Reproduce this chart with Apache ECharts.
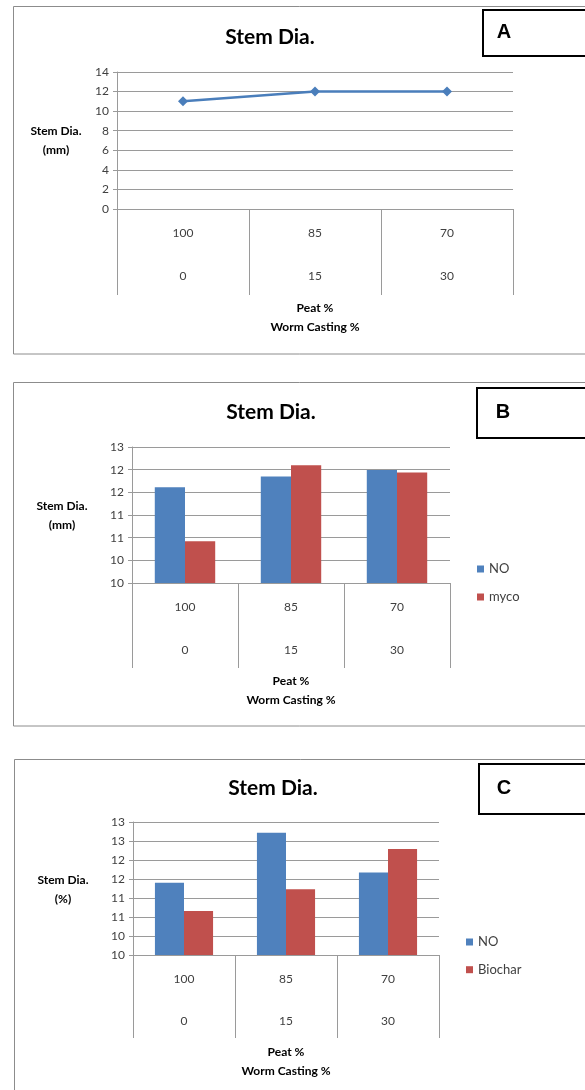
<!DOCTYPE html>
<html>
<head>
<meta charset="utf-8">
<script src="https://cdn.jsdelivr.net/npm/echarts@6/dist/echarts.min.js"></script>
<style>
html,body{margin:0;padding:0;background:#fff;}
#chart{width:585px;height:1090px;}
</style>
</head>
<body>
<div id="chart"></div>
<script>
// ---- data ----
const categoriesPeat = ['100', '85', '70'];
const categoriesWorm = ['0', '15', '30'];
const stemDiaA = [11, 12, 12];
const noB = [12.11, 12.35, 12.49];
const mycoB = [10.92, 12.6, 12.44];
const noC = [11.9, 13.22, 12.17];
const biocharC = [11.16, 11.73, 12.79];
const tickLabelsB = ['10', '10', '11', '11', '12', '12', '13'];
const tickLabelsC = ['10', '10', '11', '11', '12', '12', '13', '13'];
const panelLetters = ['A', 'B', 'C'];
const chartTitle = 'Stem Dia.';
const yNameA = 'Stem Dia.\n(mm)';
const yNameB = 'Stem Dia.\n(mm)';
const yNameC = 'Stem Dia.\n(%)';
const xName = 'Peat %\nWorm Casting %';

const FONT = 'Lato';
const BLUE = '#4F81BD';
const RED = '#C0504D';
const GRID = '#9a9a9a';
const LBL = '#404040';

function catAxis(gridIndex, tickLen, lineH, margin, nameGap) {
  return {
    type: 'category', gridIndex, data: categoriesPeat, boundaryGap: true,
    axisLine: {show: true, lineStyle: {color: GRID, width: 1}},
    axisTick: {show: true, length: tickLen, interval: 0, lineStyle: {color: GRID, width: 1}},
    axisLabel: {
      interval: 0, margin, lineHeight: lineH, fontFamily: FONT, fontSize: 12, color: LBL,
      formatter: (v, i) => categoriesPeat[i] + '\n' + categoriesWorm[i]
    },
    name: xName, nameLocation: 'middle', nameGap,
    nameTextStyle: {fontFamily: FONT, fontWeight: 'bold', fontSize: 12, color: '#000', lineHeight: 19}
  };
}
function valAxis(gridIndex, min, max, interval, labels) {
  return {
    type: 'value', gridIndex, min, max, interval,
    axisLine: {show: true, lineStyle: {color: GRID, width: 1}},
    axisTick: {show: true, length: 4, lineStyle: {color: GRID}},
    splitLine: {show: true, lineStyle: {color: GRID, width: 1}},
    axisLabel: {
      fontFamily: FONT, fontSize: 12, color: LBL, margin: 8,
      formatter: labels ? ((v, i) => labels[i]) : (v => String(v))
    }
  };
}

const chart = echarts.init(document.getElementById('chart'));
const titleStyle = {fontFamily: FONT, fontWeight: 'bold', fontSize: 21, color: '#000'};
const yNameStyle = {fontFamily: FONT, fontWeight: 'bold', fontSize: 12, fill: '#000', textAlign: 'center', textVerticalAlign: 'middle', lineHeight: 19};
const letterStyle = {fontFamily: 'Liberation Sans', fontWeight: 'bold', fontSize: 20, fill: '#000', textAlign: 'center', textVerticalAlign: 'middle'};
const panelStroke = {fill: 'none', stroke: '#8c8c8c', lineWidth: 1};
const boxStroke = {fill: '#fff', stroke: '#000', lineWidth: 2};

chart.setOption({
  animation: false,
  backgroundColor: '#fff',
  title: [
    {text: chartTitle, left: 270, top: 27, textAlign: 'center', padding: 0, textStyle: titleStyle},
    {text: chartTitle, left: 271, top: 402, textAlign: 'center', padding: 0, textStyle: titleStyle},
    {text: chartTitle, left: 273, top: 778, textAlign: 'center', padding: 0, textStyle: titleStyle}
  ],
  grid: [
    {left: 117, top: 72, width: 396, height: 137},
    {left: 132, top: 447, width: 318, height: 136},
    {left: 133, top: 822, width: 306, height: 133}
  ],
  xAxis: [
    catAxis(0, 86, 43, 3, 88),
    catAxis(1, 85, 42.4, 3.4, 88),
    catAxis(2, 83, 41.3, 3.7, 86.5)
  ],
  yAxis: [
    valAxis(0, 0, 14, 2, null),
    valAxis(1, 10, 13, 0.5, tickLabelsB),
    valAxis(2, 10, 13.5, 0.5, tickLabelsC)
  ],
  legend: [
    {data: ['NO', 'myco'], orient: 'vertical', left: 472, top: 557, icon: 'rect', itemWidth: 7, itemHeight: 7, itemGap: 14,
     textStyle: {fontFamily: FONT, fontSize: 13, color: LBL, lineHeight: 14}},
    {data: ['NO ', 'Biochar'], orient: 'vertical', left: 461, top: 930, icon: 'rect', itemWidth: 7, itemHeight: 7, itemGap: 13.7,
     textStyle: {fontFamily: FONT, fontSize: 13, color: LBL, lineHeight: 14},
     formatter: n => n.trim()}
  ],
  series: [
    {type: 'line', name: 'Stem', xAxisIndex: 0, yAxisIndex: 0, data: stemDiaA,
     symbol: 'diamond', symbolSize: 10, lineStyle: {color: '#4A7EBB', width: 2.5},
     itemStyle: {color: '#4A7EBB'}},
    {type: 'bar', name: 'NO', xAxisIndex: 1, yAxisIndex: 1, data: noB, barGap: '0%', barCategoryGap: '43%', itemStyle: {color: BLUE}},
    {type: 'bar', name: 'myco', xAxisIndex: 1, yAxisIndex: 1, data: mycoB, barGap: '0%', barCategoryGap: '43%', itemStyle: {color: RED}},
    {type: 'bar', name: 'NO ', xAxisIndex: 2, yAxisIndex: 2, data: noC, barGap: '0%', barCategoryGap: '43%', itemStyle: {color: BLUE}},
    {type: 'bar', name: 'Biochar', xAxisIndex: 2, yAxisIndex: 2, data: biocharC, barGap: '0%', barCategoryGap: '43%', itemStyle: {color: RED}}
  ],
  graphic: [
    {type: 'rect', shape: {x: 13.5, y: 6.5, width: 620, height: 347.5}, style: panelStroke, silent: true, z: -1},
    {type: 'rect', shape: {x: 13.5, y: 382.5, width: 620, height: 343.5}, style: panelStroke, silent: true, z: -1},
    {type: 'rect', shape: {x: 14.5, y: 759.5, width: 620, height: 400}, style: panelStroke, silent: true, z: -1},
    {type: 'rect', shape: {x: 483, y: 10, width: 120, height: 46}, style: boxStroke, silent: true},
    {type: 'rect', shape: {x: 477, y: 388, width: 120, height: 50}, style: boxStroke, silent: true},
    {type: 'rect', shape: {x: 479, y: 764, width: 120, height: 50}, style: boxStroke, silent: true},
    {type: 'text', x: 504, y: 32, style: Object.assign({text: panelLetters[0]}, letterStyle), silent: true, z: 10},
    {type: 'text', x: 503, y: 412, style: Object.assign({text: panelLetters[1]}, letterStyle), silent: true, z: 10},
    {type: 'text', x: 504, y: 788, style: Object.assign({text: panelLetters[2]}, letterStyle), silent: true, z: 10},
    {type: 'text', x: 56, y: 141, style: Object.assign({text: yNameA}, yNameStyle), silent: true},
    {type: 'text', x: 62, y: 516, style: Object.assign({text: yNameB}, yNameStyle), silent: true},
    {type: 'text', x: 63, y: 890, style: Object.assign({text: yNameC}, yNameStyle), silent: true}
  ]
});
</script>
</body>
</html>
